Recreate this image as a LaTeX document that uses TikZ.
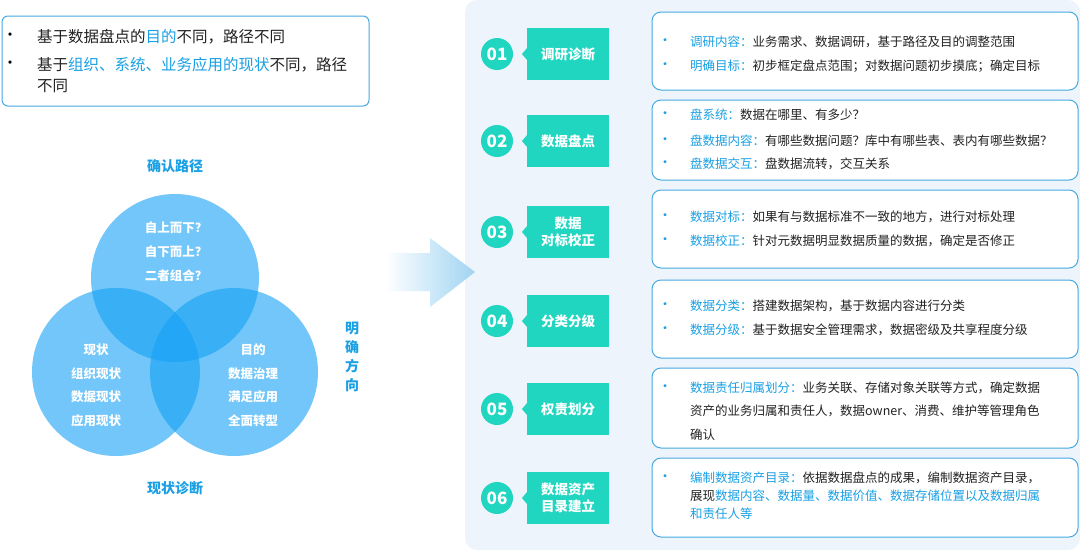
\documentclass[tikz,border=0pt]{standalone}
\usepackage{fontspec}
\setmainfont{Noto Sans CJK SC}
\definecolor{bl}{RGB}{26,160,228}
\definecolor{bd}{RGB}{70,170,225}
\definecolor{tl}{RGB}{32,214,192}
\definecolor{pn}{RGB}{238,244,251}
\definecolor{vc}{RGB}{20,160,245}
\definecolor{tx}{RGB}{34,34,34}
\definecolor{ar}{RGB}{160,212,242}
\tikzset{
 cbox/.style={draw=bd,line width=1pt,rounded corners=9pt,fill=white},
 ln/.style={anchor=west,inner sep=0pt,font=\fontsize{12.5}{14}\selectfont,text=tx},
 dot/.style={anchor=center,inner sep=0pt,text=bl,font=\fontsize{14}{14}\selectfont},
 num/.style={circle,fill=tl,minimum size=32pt,inner sep=0pt,text=white,font=\bfseries\fontsize{17}{18}\selectfont},
 lab/.style={fill=tl,minimum width=82pt,minimum height=52pt,inner sep=0pt,text=white,align=center,font=\bfseries\fontsize{13.5}{17}\selectfont},
 ven/.style={circle,fill=vc,fill opacity=0.6,minimum size=168pt,inner sep=0pt},
 vt/.style={text=white,font=\bfseries\fontsize{12.5}{14}\selectfont,inner sep=0pt},
 ttl/.style={text=bl,font=\bfseries\fontsize{14}{16}\selectfont,inner sep=0pt},
}
\newcommand{\hl}[1]{\textcolor{bl}{#1}}
\begin{document}
\begin{tikzpicture}[x=1pt,y=-1pt]
\useasboundingbox (0,0) rectangle (1080,550);
\fill[white] (0,0) rectangle (1080,550);
% right panel
\fill[pn,rounded corners=12pt] (465,0) rectangle (1080,550);
% top-left box
\node[draw=bd,line width=1pt,rounded corners=6pt,minimum width=367pt,minimum height=90pt,inner sep=0pt] (tb) at (185.5,61) {};
\begin{scope}[font=\fontsize{15.5}{18}\selectfont]
\node[anchor=center,inner sep=0pt] (b1) at (10,37) {•};
\node[anchor=west,inner sep=0pt,text=tx] (t1) at (37,37) {基于数据盘点的\hl{目的}不同，路径不同};
\node[anchor=center,inner sep=0pt] (b2) at (10,65) {•};
\node[anchor=west,inner sep=0pt,text=tx] (t2) at (37,65) {基于\hl{组织、系统、业务应用的现状}不同，路径};
\node[anchor=west,inner sep=0pt,text=tx] (t3) at (37,86) {不同};
\end{scope}
% venn
\node[ven] (vtop) at (175,278) {};
\node[ven] (vl) at (116,372) {};
\node[ven] (vr) at (234,372) {};
\node[ttl] (h1) at (175,166) {确认路径};
\node[ttl] (h2) at (175,488) {现状诊断};
\node[ttl,align=center,font=\bfseries\fontsize{14}{19}\selectfont] (h3) at (352,357) {明\\确\\方\\向};
\node[vt] at (176,228) {自上而下？};
\node[vt] at (176,252) {自下而上？};
\node[vt] at (176,276) {二者组合？};
\node[vt] at (96,350) {现状};
\node[vt] at (96,374) {组织现状};
\node[vt] at (96,397) {数据现状};
\node[vt] at (96,421) {应用现状};
\node[vt] at (253,350) {目的};
\node[vt] at (253,374) {数据治理};
\node[vt] at (253,397) {满足应用};
\node[vt] at (253,421) {全面转型};
% arrow
\shade[left color=white,right color=ar] (385,253) -- (430,253) -- (430,238) -- (475,272) -- (430,307) -- (430,291) -- (385,291) -- cycle;
% rows
\foreach \i/\y/\t/\a/\b in {1/54/调研诊断/12/90, 2/141/数据盘点/100/180, 3/232/{数据\\对标校正}/190/268, 4/321/分类分级/280/358, 5/409/权责划分/368/448, 6/498/{数据资产\\目录建立}/458/537}{
 \node[num] (n\i) at (497,\y) {0\i};
 \fill[tl] (527,\y-6) -- (522,\y) -- (527,\y+6) -- cycle;
 \node[lab] (l\i) at (568,\y) {\t};
 \draw[cbox] (652,\a) rectangle (1078,\b);
}
% row texts
\foreach \y in {42,66,115,141,164,217,241,306,330,388,478}{\node[dot] at (665,\y) {•};}
\node[ln] at (690,42) {\hl{调研内容：}业务需求、数据调研，基于路径及目的调整范围};
\node[ln] at (690,66) {\hl{明确目标：}初步框定盘点范围；对数据问题初步摸底；确定目标};
\node[ln] at (690,115) {\hl{盘系统：}数据在哪里、有多少？};
\node[ln] at (690,141) {\hl{盘数据内容：}有哪些数据问题？库中有哪些表、表内有哪些数据？};
\node[ln] at (690,164) {\hl{盘数据交互：}盘数据流转，交互关系};
\node[ln] at (690,217) {\hl{数据对标：}如果有与数据标准不一致的地方，进行对标处理};
\node[ln] at (690,241) {\hl{数据校正：}针对元数据明显数据质量的数据，确定是否修正};
\node[ln] at (690,306) {\hl{数据分类：}搭建数据架构，基于数据内容进行分类};
\node[ln] at (690,330) {\hl{数据分级：}基于数据安全管理需求，数据密级及共享程度分级};
\node[ln] at (690,388) {\hl{数据责任归属划分：}业务关联、存储对象关联等方式，确定数据};
\node[ln] at (690,411) {资产的业务归属和责任人，数据owner、消费、维护等管理角色};
\node[ln] at (690,435) {确认};
\node[ln] at (690,478) {\hl{编制数据资产目录：}依据数据盘点的成果，编制数据资产目录，};
\node[ln] at (690,496) {展现\hl{数据内容、数据量、数据价值、数据存储位置以及数据归属}};
\node[ln] at (690,514) {\hl{和责任人等}};
\end{tikzpicture}
\end{document}
